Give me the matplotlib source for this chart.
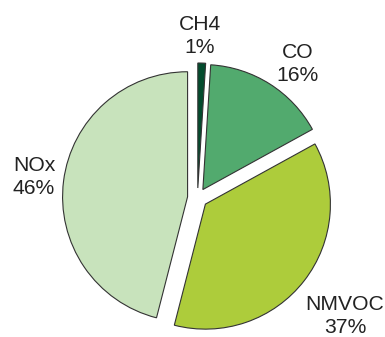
import matplotlib
matplotlib.use("Agg")
import matplotlib.pyplot as plt

# Emission shares by pollutant
categories = ["CH4", "CO", "NMVOC", "NOx"]
shares = [1, 16, 37, 46]
colors = ["#034b2d", "#52aa6e", "#adcc3b", "#c8e3bc"]

W, H = 385, 337
fig = plt.figure(figsize=(W / 100, H / 100), dpi=100)
ax = fig.add_axes([0, 0, 1, 1])

# explode offsets are in data units (pixels here)
ax.pie(
    shares,
    colors=colors,
    startangle=90,
    counterclock=False,
    explode=[10] * len(shares),
    center=(197.5, H - 198),
    radius=125,
    frame=True,
    wedgeprops=dict(edgecolor="#333333", linewidth=0.8),
)
ax.set_xlim(0, W)
ax.set_ylim(0, H)
ax.set_aspect("equal")
ax.axis("off")

# label anchor points (x, y from top)
label_pos = {"CH4": (200, 36), "CO": (298, 64), "NMVOC": (345, 316), "NOx": (34, 177)}
for cat, val in zip(categories, shares):
    x, y = label_pos[cat]
    ax.text(x, H - y, f"{cat}\n{val}%", ha="center", va="center",
            multialignment="center", fontsize=15.2, linespacing=1.3,
            family="Liberation Sans", color="#222222")

fig.savefig("out.png", dpi=100)
